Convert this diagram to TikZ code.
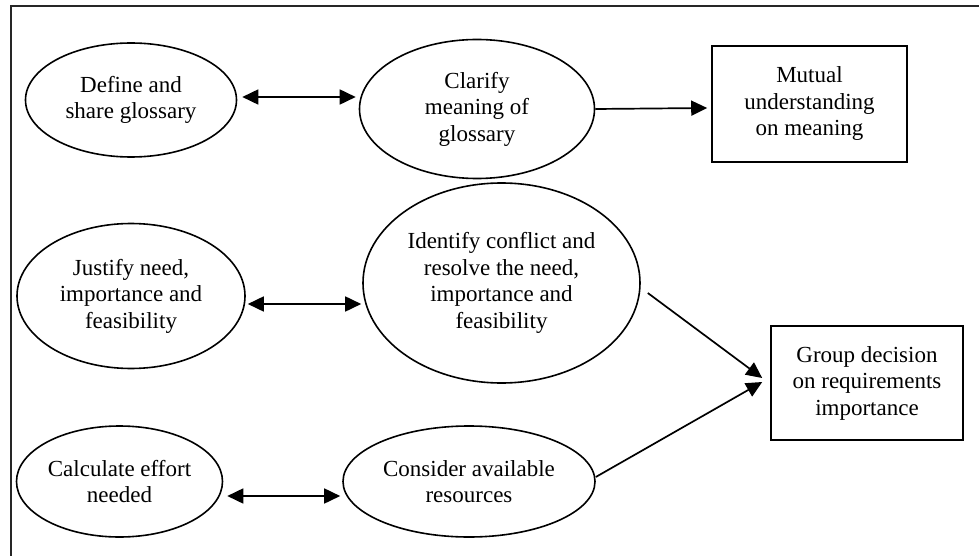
\documentclass[tikz,border=0pt]{standalone}
\usepackage{fontspec}
\setmainfont{Liberation Serif}
\usetikzlibrary{shapes.geometric,arrows.meta}
\begin{document}
\begin{tikzpicture}[x=1pt,y=-1pt,
  every node/.style={font=\fontsize{23}{26.5}\selectfont, align=center, inner sep=0pt},
  oval/.style={ellipse, draw, line width=1.6pt},
  rbox/.style={rectangle, draw, line width=1.6pt},
  link/.style={line width=1.7pt, -{Triangle[length=16pt,width=15pt]}},
  dlink/.style={line width=1.7pt, {Triangle[length=16pt,width=15pt]}-{Triangle[length=16pt,width=15pt]}}]
\useasboundingbox (0,0) rectangle (979,556);
\clip (0,0) rectangle (979,556);
\draw[line width=2pt, draw=black!85] (11,570) -- (11,6) -- (995,6);

\node[oval, minimum width=211pt, minimum height=114pt] (e1) at (131,100) {Define and\\share glossary};
\node[oval, minimum width=235pt, minimum height=139pt] (e2) at (477,109) {Clarify\\meaning of\\glossary};
\node[rbox, minimum width=195pt, minimum height=116pt] (b1) at (809.5,104) {Mutual\\understanding\\on meaning};

\node[oval, minimum width=228pt, minimum height=145pt] (e3) at (131,296) {Justify need,\\importance and\\feasibility};
\node[oval, minimum width=277pt, minimum height=200pt] (e4) at (501.5,283) {Identify conflict and\\resolve the need,\\importance and\\feasibility};
\node[rbox, minimum width=192pt, minimum height=114pt] (b2) at (867,383) {Group decision\\on requirements\\importance};

\node[oval, minimum width=206pt, minimum height=111pt] (e5) at (119.5,481.5) {Calculate effort\\needed};
\node[oval, minimum width=252pt, minimum height=111pt] (e6) at (469,481.5) {Consider available\\resources};

\draw[dlink] ([xshift=5pt,yshift=3pt]e1.east) -- ([xshift=-3pt,yshift=12pt]e2.west);
\draw[link] (e2.east) -- ([xshift=-4pt,yshift=-4pt]b1.west);
\draw[dlink] ([xshift=2pt,yshift=-8pt]e3.east) -- ([xshift=-1pt,yshift=-21pt]e4.west);
\draw[dlink] ([xshift=4pt,yshift=-14.5pt]e5.east) -- ([xshift=-2pt,yshift=-14.5pt]e6.west);
\draw[link] ([xshift=7pt,yshift=-10pt]e4.east) -- ([xshift=-8pt,yshift=5pt]b2.west);
\draw[link] ([yshift=4.5pt]e6.east) -- ([xshift=-8pt,yshift=1pt]b2.west);
\end{tikzpicture}
\end{document}
